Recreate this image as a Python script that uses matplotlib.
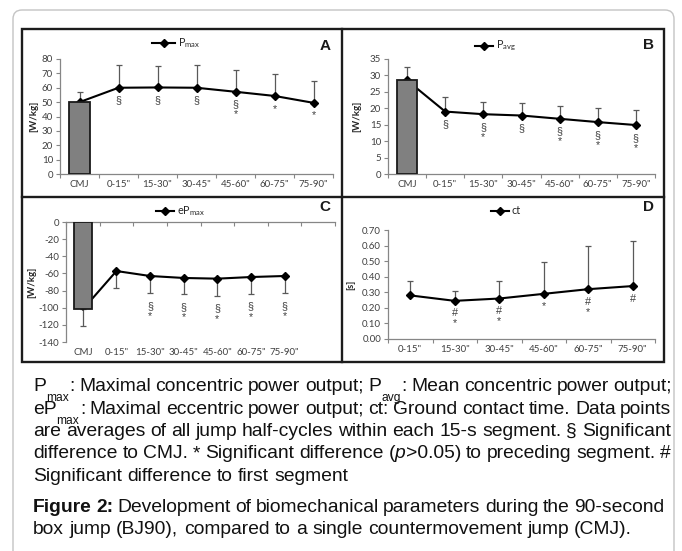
"""Figure 2 - biomechanical parameters during the 90-second box jump (BJ90)."""
import matplotlib
matplotlib.use("Agg")
import matplotlib.pyplot as plt
from matplotlib.lines import Line2D
from matplotlib.patches import FancyBboxPatch, Rectangle
import numpy as np

W, H = 682, 551

CATS = ["CMJ", '0-15"', '15-30"', '30-45"', '45-60"', '60-75"', '75-90"']
SEGS = CATS[1:]

# A: maximal concentric power [W/kg] (CMJ first)
PMAX = [50, 60, 60.2, 60, 57.2, 54.3, 49.5]
PMAX_SD = [7, 15.5, 14.8, 15.5, 15.3, 15.2, 15]
PMAX_SIG = ["", "§", "§", "§", "§\n*", "*", "*"]

# B: mean concentric power [W/kg]
PAVG = [28.5, 19, 18.2, 17.8, 16.8, 15.8, 14.9]
PAVG_SD = [4, 4.5, 3.8, 3.9, 3.9, 4.2, 4.6]
PAVG_SIG = ["", "§", "§\n*", "§", "§\n*", "§\n*", "§\n*"]

# C: maximal eccentric power [W/kg]
EPMAX = [-102, -57.2, -63, -65.3, -66.1, -64.2, -63]
EPMAX_SD = [19.5, 20.2, 20.2, 19.1, 20.2, 19.8, 20.2]
EPMAX_SIG = ["", "", "§\n*", "§\n*", "§\n*", "§\n*", "§\n*"]

# D: ground contact time [s] (no CMJ)
CT = [0.28, 0.245, 0.26, 0.29, 0.32, 0.34]
CT_SD = [0.09, 0.065, 0.115, 0.205, 0.277, 0.29]
CT_SIG = ["", "#\n*", "#\n*", "*", "#\n*", "#"]

CAPTION = [
    [("P", ""), ("max", "sub"), (": Maximal concentric power output; P", ""),
     ("avg", "sub"), (": Mean concentric power output;", "")],
    [("eP", ""), ("max", "sub"),
     (": Maximal eccentric power output; ct: Ground contact time. Data points", "")],
    [("are averages of all jump half-cycles within each 15-s segment. § Significant", "")],
    [("difference to CMJ. * Significant difference (", ""), ("p", "it"),
     (">0.05) to preceding segment. #", "")],
    [("Significant difference to first segment", "")],
]
FIG_TITLE = [
    [("Figure 2:", "bold"),
     (" Development of biomechanical parameters during the 90-second", "")],
    [("box jump (BJ90), compared to a single countermovement jump (CMJ).", "")],
]

TICK_FONT = "Lato"
CAP_FONT = "Liberation Sans"
AXIS_GRAY = "#868686"
ERR_GRAY = "#595959"

plt.rcParams["font.family"] = TICK_FONT


def fx(x):
    return x / W


def fy(y):
    return 1 - y / H


def add_axes(fig, x0, y0, x1, y1):
    return fig.add_axes([fx(x0), fy(y1), fx(x1) - fx(x0), fy(y0) - fy(y1)])


def draw_panel(ax, vals, sds, cats, nslots, sig, ylim, yticks, fmt, ylabel,
               label_x, bar=False, down=False):
    x = np.arange(len(vals))
    vals = np.asarray(vals, dtype=float)
    sds = np.asarray(sds, dtype=float)
    zeros = np.zeros_like(sds)
    yerr = [sds, zeros] if down else [zeros, sds]

    markevery = None
    if bar:
        ax.bar(x[0], vals[0], width=0.52, color="#808080", edgecolor="#1a1a1a",
               linewidth=1.3, zorder=3)
        if down:
            markevery = list(range(1, len(vals)))
    ax.errorbar(x, vals, yerr=yerr, fmt="none", ecolor=ERR_GRAY, elinewidth=0.9,
                capsize=2.5, capthick=0.9, zorder=2)
    ax.plot(x, vals, color="black", lw=1.5, marker="D", ms=4.4,
            markevery=markevery, zorder=2.5)

    for i, s in enumerate(sig):
        if not s:
            continue
        anchor = vals[i] - sds[i] if down else vals[i]
        ax.annotate(s, xy=(i, anchor), xytext=(0, -5.5), textcoords="offset points",
                    ha="center", va="top", fontsize=7.8, color="#404040",
                    linespacing=1.0, family=CAP_FONT)

    ax.set_xlim(-0.5, nslots - 0.5)
    ax.set_ylim(*ylim)
    ax.set_yticks(yticks)
    ax.set_yticklabels([fmt.format(v) for v in yticks])
    ax.set_xticks(np.arange(nslots + 1) - 0.5)
    ax.set_xticklabels([])
    ax.set_xticks(np.arange(len(cats)), minor=True)
    ax.set_xticklabels(cats, minor=True)
    ax.tick_params(axis="x", which="minor", length=0, labelsize=7,
                   labelcolor="#404040", pad=4.5)
    ax.tick_params(axis="y", length=3, width=0.8, color=AXIS_GRAY,
                   labelsize=7, labelcolor="#404040", pad=2)
    ax.tick_params(axis="x", which="major", length=3, width=0.8, color=AXIS_GRAY)
    for sp in ax.spines.values():
        sp.set_color(AXIS_GRAY)
        sp.set_linewidth(0.9)
    ax.spines["right"].set_visible(False)
    if down:
        # category axis crosses at zero, at the top
        ax.spines["bottom"].set_visible(False)
        ax.tick_params(axis="x", which="major", top=True, bottom=False,
                       direction="in")
        ax.tick_params(axis="x", which="minor", pad=4.5)
    else:
        ax.spines["top"].set_visible(False)
    ax.set_ylabel(ylabel, fontsize=7, fontweight="bold", color="#262626")
    pos = ax.get_position()
    ax.yaxis.set_label_coords((fx(label_x) - pos.x0) / pos.width, 0.5)
    ax.patch.set_alpha(0)


def legend(fig, x0, x1, y, label):
    fig.add_artist(Line2D([fx(x0), fx(x1)], [fy(y), fy(y)], color="black", lw=1.5))
    fig.add_artist(Line2D([fx((x0 + x1) / 2)], [fy(y)], color="black", marker="D",
                          ms=4.4, lw=0))
    fig.text(fx(x1 + 3), fy(y), label, ha="left", va="center", fontsize=7.8,
             color="#262626")


def tokenize(pieces):
    out = []
    pending = False
    for text, style in pieces:
        for j, word in enumerate(text.split(" ")):
            if j > 0:
                pending = True
            if word:
                out.append((word, style, pending))
                pending = False
    return out


def caption_line(fig, renderer, pieces, y, x0=33, x1=None, size=13.9):
    toks = tokenize(pieces)
    arts, widths = [], []
    for word, style, _ in toks:
        kw = dict(fontsize=size, family=CAP_FONT, color="#111111", va="baseline",
                  ha="left")
        if style == "sub":
            kw["fontsize"] = size * 0.62
        elif style == "bold":
            kw["fontweight"] = "bold"
        elif style == "it":
            kw["fontstyle"] = "italic"
        t = fig.text(0, 0, word, **kw)
        widths.append(t.get_window_extent(renderer).width)
        arts.append(t)
    n_gaps = sum(1 for tok in toks if tok[2])
    gap = size * 100 / 72 * 0.278
    if x1 is not None and n_gaps:
        gap = max((x1 - x0 - sum(widths)) / n_gaps, 2.5)
    x = x0
    for t, (word, style, sp), wd in zip(arts, toks, widths):
        if sp:
            x += gap
        yy = y + 10 if style == "sub" else y
        t.set_position((fx(x), fy(yy)))
        x += wd + (0.5 if style == "sub" else 0)


def main():
    fig = plt.figure(figsize=(W / 100, H / 100), dpi=100)
    renderer = fig.canvas.get_renderer()

    # outer rounded frame
    fig.add_artist(FancyBboxPatch((0.13, -0.5), 6.61, 5.91,
                                  boxstyle="round,pad=0,rounding_size=0.09",
                                  transform=fig.dpi_scale_trans, fill=False,
                                  edgecolor="#c4c4c4", lw=1.0))
    # panel grid
    kw = dict(transform=fig.transFigure, color="#1c1c1c", lw=1.7)
    fig.add_artist(Rectangle((fx(22), fy(362)), fx(664) - fx(22), fy(29) - fy(362),
                             fill=False, edgecolor="#1c1c1c", lw=1.7,
                             transform=fig.transFigure))
    fig.add_artist(Line2D([fx(342), fx(342)], [fy(29), fy(362)], **kw))
    fig.add_artist(Line2D([fx(22), fx(664)], [fy(197), fy(197)], **kw))

    ax = add_axes(fig, 60, 59, 333, 174)
    draw_panel(ax, PMAX, PMAX_SD, CATS, 7, PMAX_SIG, (0, 80), np.arange(0, 81, 10),
               "{:.0f}", "[W/kg]", 38, bar=True)
    ax = add_axes(fig, 388, 59, 655, 174)
    draw_panel(ax, PAVG, PAVG_SD, CATS, 7, PAVG_SIG, (0, 35), np.arange(0, 36, 5),
               "{:.0f}", "[W/kg]", 361, bar=True)
    ax = add_axes(fig, 66, 222, 335, 342)
    draw_panel(ax, EPMAX, EPMAX_SD, CATS, 8, EPMAX_SIG, (-140, 0),
               np.arange(-140, 1, 20), "{:.0f}", "[W/kg]", 36, bar=True, down=True)
    ax = add_axes(fig, 388, 230, 655, 339)
    draw_panel(ax, CT, CT_SD, SEGS, 6, CT_SIG, (0, 0.7), np.arange(0, 0.71, 0.1),
               "{:.2f}", "[s]", 355)

    legend(fig, 152, 175, 43, r"P$_\mathregular{max}$")
    legend(fig, 475, 493, 46, r"P$_\mathregular{avg}$")
    legend(fig, 156, 174, 211, r"eP$_\mathregular{max}$")
    legend(fig, 491, 509, 211, "ct")

    for letter, x, y in [("A", 325, 46), ("B", 648, 45), ("C", 325, 207), ("D", 648, 207)]:
        fig.text(fx(x), fy(y), letter, ha="center", va="center", fontsize=11,
                 fontweight="bold", family="Liberation Sans", color="#1a1a1a")

    for i, pieces in enumerate(CAPTION):
        right = 671 if i < len(CAPTION) - 1 else None
        caption_line(fig, renderer, pieces, 391 + 22.5 * i, x1=right)
    caption_line(fig, renderer, FIG_TITLE[0], 512, x1=664)
    caption_line(fig, renderer, FIG_TITLE[1], 534)

    fig.savefig("out.png", dpi=100)
    plt.close(fig)


if __name__ == "__main__":
    main()
